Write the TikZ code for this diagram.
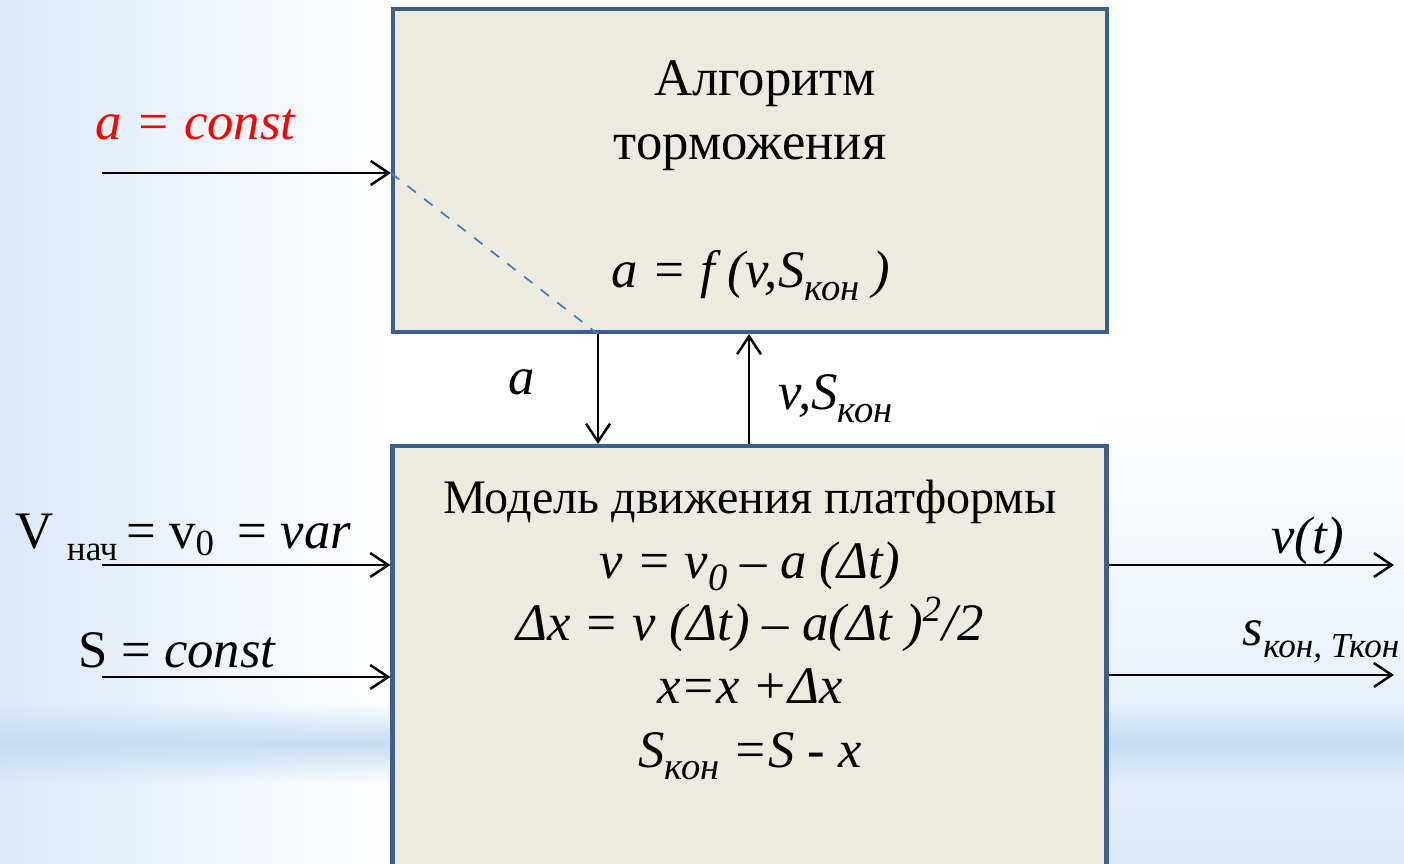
\documentclass[tikz,border=0pt]{standalone}
\usepackage{fontspec}
\setmainfont{Liberation Serif}
\usetikzlibrary{positioning,calc,arrows.meta,fadings}
\definecolor{cframe}{HTML}{3D5F8E}
\definecolor{cfill}{HTML}{EDEBE0}
\definecolor{csky}{HTML}{DCE9F6}
\definecolor{cband}{HTML}{C4DDF3}
\definecolor{cdash}{HTML}{4A7EBB}
\newcommand\subtx[1]{\raisebox{-0.5ex}{\fontsize{11}{12}\selectfont #1}}
\tikzfading[name=midband,top color=transparent!100,bottom color=transparent!100,middle color=transparent!0]

\begin{document}
\begin{tikzpicture}[>={Straight Barb[length=1.8mm,width=2.4mm]},
    blk/.style={draw=cframe,line width=1.2pt,fill=cfill,minimum width=7.14cm},
    sig/.style={->,line width=0.7pt},
    txt/.style={inner sep=0pt,anchor=base,font=\fontsize{15}{18}\selectfont}]
    % page and background
    \useasboundingbox (0,0) rectangle (14.04,8.63);
    \clip (0,0) rectangle (14.04,8.63);
    \fill[white] (0,0) rectangle (14.04,8.63);
    \shade[left color=csky,right color=white] (0,0) rectangle (3.9,8.63);
    \shade[top color=white,bottom color=csky] (11.0,0) rectangle (14.04,4.6);
    \fill[cband,path fading=midband] (0,0.8) rectangle (14.04,1.6);
    % blocks
    \node[blk,minimum height=3.23cm] (alg) at (7.50,6.925) {};
    \node[blk,minimum height=4.5cm] (mod) at (7.495,1.92) {};
    % text in the upper block
    \node[txt] (algA) at (7.65,7.67) {Алгоритм};
    \node[txt] (algB) at (7.50,7.03) {торможения};
    \node[txt] (algF) at (7.51,5.75) {\itshape a = f (v,S\subtx{кон} )};
    % text in the lower block
    \node[txt,font=\fontsize{13.7}{16}\selectfont] (modA) at (7.50,3.50) {Модель движения платформы};
    \node[txt] (modB) at (7.50,2.85) {\itshape v = v\subtx{0} – a (Δt)};
    \node[txt] (modC) at (7.50,2.23) {\itshape Δx = v (Δt) – a(Δt )\textsuperscript{2}/2};
    \node[txt] (modD) at (7.50,1.60) {\itshape x=x +Δx};
    \node[txt] (modE) at (7.50,0.96) {\itshape S\subtx{кон} =S - x};
    % free ends
    \coordinate (ain) at (1.02,6.90);
    \coordinate (vin) at (1.02,2.98);
    \coordinate (sin) at (1.02,1.86);
    \coordinate (vout) at (13.94,2.98);
    \coordinate (sout) at (13.94,1.88);
    \coordinate (adn) at (5.98,0);
    \coordinate (vup) at (7.49,0);
    % inputs
    \draw[sig] (ain) -- (alg.west |- ain);
    \draw[sig] (vin) -- (mod.west |- vin);
    \draw[sig] (sin) -- (mod.west |- sin);
    \draw[cdash,dashed,line width=0.5pt] (alg.west |- ain) -- (alg.south -| adn);
    % between blocks
    \draw[sig] (alg.south -| adn) -- (mod.north -| adn);
    \draw[sig] (mod.north -| vup) -- (alg.south -| vup);
    % outputs
    \draw[sig] (mod.east |- vout) -- (vout);
    \draw[sig] (mod.east |- sout) -- (sout);
    % labels
    \node[txt,anchor=base west,text=red] (lconst) at (0.95,7.23) {\itshape a = const};
    \node[txt] (la) at (5.22,4.68) {\itshape a};
    \node[txt,anchor=base west] (lv0) at (0.15,3.15) {V \raisebox{-0.5ex}{\fontsize{10}{12}\selectfont нач}\,= v\textsubscript{0}\ \,= \textit{var}};
    \node[txt,anchor=base west] (lvs) at (7.78,4.53) {\itshape v,S\subtx{кон}};
    \node[txt,anchor=base west] (ls) at (0.78,1.96) {S = \textit{const}};
    \node[txt,anchor=base east] (lvt) at (13.45,3.10) {\itshape v(t)};
    \node[txt,anchor=base east] (lsk) at (14.00,2.18) {\itshape s\raisebox{-0.5ex}{\fontsize{10}{12}\selectfont кон, Ткон}};
\end{tikzpicture}
\end{document}
